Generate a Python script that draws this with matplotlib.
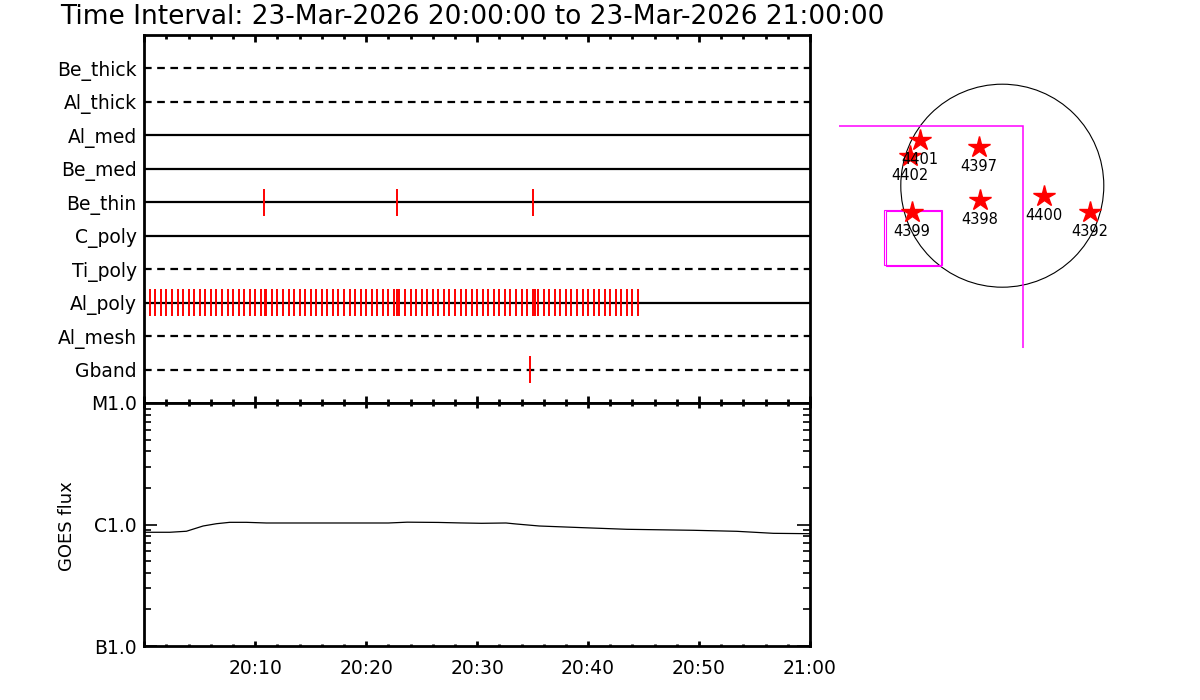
import numpy as np
import matplotlib
matplotlib.use('Agg')
import matplotlib.pyplot as plt
from matplotlib.ticker import FixedLocator, MultipleLocator, NullFormatter, LogLocator
from matplotlib.patches import Circle, Rectangle

plt.rcParams['font.family'] = 'DejaVu Sans'
plt.rcParams['lines.scale_dashes'] = False

title = 'Time Interval: 23-Mar-2026 20:00:00 to 23-Mar-2026 21:00:00'

# filter rows, top to bottom; dashed = filter not used in this interval
filters = ['Be_thick', 'Al_thick', 'Al_med', 'Be_med', 'Be_thin',
           'C_poly', 'Ti_poly', 'Al_poly', 'Al_mesh', 'Gband']
filter_used = [False, False, True, True, True, True, False, True, False, False]

# exposure times, minutes after 20:00
be_thin_t = [10.79, 22.78, 35.0]
gband_t = [34.76]
al_poly_t = [0.0, 0.5, 1.0, 1.5, 2.0, 2.5, 3.0, 3.5, 4.0, 4.5,
             5.0, 5.5, 6.0, 6.5, 7.0, 7.5, 8.0, 8.5, 9.0, 9.5,
             10.0, 10.5, 10.88, 11.0, 11.5, 12.0, 12.5, 13.0, 13.5, 14.0, 14.5,
             15.0, 15.5, 16.0, 16.5, 17.0, 17.5, 18.0, 18.5, 19.0, 19.5,
             20.0, 20.5, 21.0, 21.5, 22.0, 22.5, 22.82, 23.0, 23.5, 24.0, 24.5,
             25.0, 25.5, 26.0, 26.5, 27.0, 27.5, 28.0, 28.5, 29.0, 29.5,
             30.0, 30.5, 31.0, 31.5, 32.0, 32.5, 33.0, 33.5, 34.0, 34.5,
             35.0, 35.22, 35.5, 36.0, 36.5, 37.0, 37.5, 38.0, 38.5, 39.0, 39.5,
             40.0, 40.5, 41.0, 41.5, 42.0, 42.5, 43.0, 43.5, 44.0, 44.5]

# GOES 1-8 A flux (W/m^2)
goes_t = [0, 2.3, 3.8, 5.3, 6.5, 7.7, 9.2, 11, 22, 23.7, 26.5, 28.5, 30.4,
          32.6, 33.5, 35.6, 39.6, 43.5, 49.5, 53.4, 56.7, 60]
goes_flux = [8.63e-7, 8.63e-7, 8.80e-7, 9.72e-7, 1.015e-6, 1.042e-6, 1.042e-6,
             1.029e-6, 1.029e-6, 1.045e-6, 1.040e-6, 1.030e-6, 1.023e-6,
             1.029e-6, 1.010e-6, 9.72e-7, 9.41e-7, 9.13e-7, 8.96e-7, 8.79e-7,
             8.46e-7, 8.40e-7]
goes_ticks = [1e-7, 1e-6, 1e-5]
goes_labels = ['B1.0', 'C1.0', 'M1.0']
time_ticks = [0, 10, 20, 30, 40, 50, 60]
time_labels = ['', '20:10', '20:20', '20:30', '20:40', '20:50', '21:00']

# active regions on the disk (arcsec)
ar_num = ['4401', '4402', '4397', '4398', '4400', '4392', '4399']
ar_x = [-778, -873, -223, -211, 397, 827, -854]
ar_y = [432, 281, 369, -135, -95, -246, -246]
r_sun = 960.
fov_x = [-2600, 199]
fov_y = [-2600, 562]
box1_x = [-1116, -573]
box1_y = [-750, -230]
box2_x = [-1097, -583]
box2_y = [-762, -239]

W, H = 1200, 700
fig = plt.figure(figsize=(12, 7), dpi=100)

def px(l, t, r, b):
    return [l / W, 1 - b / H, (r - l) / W, (b - t) / H]

ax_f = fig.add_axes(px(144.3, 35, 810, 403))
ax_g = fig.add_axes(px(144.3, 403, 810, 646))

exposures = {'Be_thin': be_thin_t, 'Al_poly': al_poly_t, 'Gband': gband_t}
nrow = len(filters)
rows = np.arange(nrow, 0, -1)
for name, row, used in zip(filters, rows, filter_used):
    if used:
        ax_f.plot([0, 60], [row, row], color='k', lw=1.6, solid_capstyle='butt')
    else:
        ax_f.plot([0, 60], [row, row], color='k', lw=1.6, dashes=(5.5, 4),
                  dash_capstyle='butt')
    if name in exposures:
        ax_f.vlines(exposures[name], row - 0.41, row + 0.41, color='red', lw=1.4)

ax_f.set_xlim(0, 60)
ax_f.set_ylim(0, nrow + 1)
ax_f.set_yticks(rows)
ax_f.set_yticklabels(filters, fontsize=13.5)
ax_f.tick_params(axis='y', length=0, pad=5.5)
ax_f.xaxis.set_major_locator(MultipleLocator(10))
ax_f.xaxis.set_minor_locator(MultipleLocator(2))
ax_f.tick_params(axis='x', which='both', direction='in', top=True, bottom=True,
                 labelbottom=False, width=2)
ax_f.tick_params(axis='x', which='major', length=5.3)
ax_f.tick_params(axis='x', which='minor', length=2.7)

ax_g.plot(goes_t, goes_flux, color='k', lw=0.9)
ax_g.set_yscale('log')
ax_g.set_ylim(1e-7, 1e-5)
ax_g.set_xlim(0, 60)
ax_g.yaxis.set_major_locator(FixedLocator(goes_ticks))
ax_g.yaxis.set_minor_locator(LogLocator(base=10, subs=np.arange(2, 10)))
ax_g.yaxis.set_minor_formatter(NullFormatter())
ax_g.set_yticklabels(goes_labels, fontsize=13.5)
ax_g.tick_params(axis='y', which='both', direction='in', left=True, right=True,
                 width=1.2, pad=5.5)
ax_g.tick_params(axis='y', which='major', length=9.6)
ax_g.tick_params(axis='y', which='minor', length=4.8)
ax_g.set_xticks(time_ticks)
ax_g.set_xticklabels(time_labels, fontsize=13.5)
ax_g.xaxis.set_minor_locator(MultipleLocator(2))
ax_g.tick_params(axis='x', which='both', direction='in', top=True, bottom=True,
                 width=2, pad=9)
ax_g.tick_params(axis='x', which='major', length=3.6)
ax_g.tick_params(axis='x', which='minor', length=1.8)
fig.text(67 / W, 1 - 526 / H, 'GOES flux', rotation=90, ha='center',
         va='center', fontsize=13)

for a in (ax_f, ax_g):
    for sp in a.spines.values():
        sp.set_linewidth(2)

fig.text(60 / W, 1 - 24 / H, title, fontsize=19, ha='left', va='baseline')

# solar disk panel
cx, cy, rpx = 1002.3, 185.7, 101.5
s = r_sun / rpx
L, T, R, B = 839, 30, 1190, 348.3
ax_m = fig.add_axes(px(L, T, R, B))
ax_m.set_xlim((L - cx) * s, (R - cx) * s)
ax_m.set_ylim((cy - B) * s, (cy - T) * s)
ax_m.axis('off')
ax_m.add_patch(Circle((0, 0), r_sun, fill=False, ec='k', lw=0.8))
ax_m.add_patch(Rectangle((fov_x[0], fov_y[0]), fov_x[1] - fov_x[0],
                         fov_y[1] - fov_y[0], fill=False, ec='magenta', lw=1.1))
for bx, by in ((box1_x, box1_y), (box2_x, box2_y)):
    ax_m.add_patch(Rectangle((bx[0], by[0]), bx[1] - bx[0], by[1] - by[0],
                             fill=False, ec='magenta', lw=0.8))
ax_m.plot(ar_x, ar_y, '*', color='red', ms=16, mec='red', ls='none')
for n, x, y in zip(ar_num, ar_x, ar_y):
    ax_m.annotate(n, (x, y), xytext=(0, -14), textcoords='offset points',
                  ha='center', va='center', fontsize=10.5)

fig.savefig('out.png', dpi=100)
